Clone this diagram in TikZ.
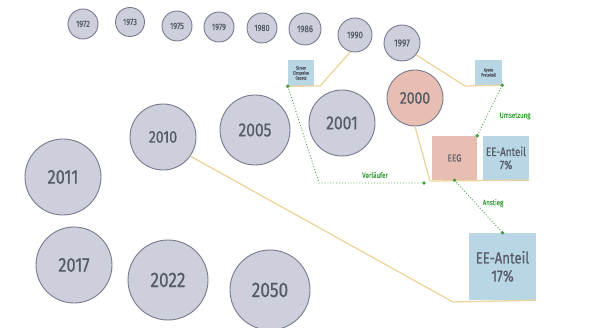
\documentclass[tikz,border=0pt]{standalone}
\usepackage{fontspec}
\setmainfont{Fira Sans}[FakeStretch=0.82,FakeBold=0.6]
\definecolor{cfill}{HTML}{CDD0DC}
\definecolor{cdraw}{HTML}{767A8C}
\definecolor{ctext}{HTML}{575B66}
\definecolor{salmon}{HTML}{E8BDB2}
\definecolor{lblue}{HTML}{B9D6E4}
\definecolor{tanline}{HTML}{EDD49C}
\definecolor{dgreen}{HTML}{3E9E3E}
\tikzset{
  yr/.style={circle, draw=cdraw, line width=0.9pt, fill=cfill, text=ctext, inner sep=0pt, minimum size=#1},
  boxb/.style={fill=lblue, text=ctext, align=center, inner sep=0pt},
  boxs/.style={fill=salmon, text=ctext, align=center, inner sep=0pt},
  tl/.style={draw=tanline, line width=1.3pt},
  gl/.style={draw=dgreen, dotted, line width=0.9pt},
  gdot/.style={fill=dgreen},
  glab/.style={text=dgreen, font=\fontsize{7.5}{8}\selectfont}
}
\begin{document}
\begin{tikzpicture}[x=1pt,y=-1pt]
\useasboundingbox (0,0) rectangle (593,328);
\coordinate (t1) at (320,86);
\coordinate (t2) at (465,86);
\coordinate (t3) at (430,181);
\coordinate (t4) at (453,302);
% small circles
\node[yr=30pt, font=\fontsize{9}{10}\selectfont] (c1972) at (83,24) {1972};
\node[yr=29pt, font=\fontsize{9}{10}\selectfont] (c1973) at (130,22) {1973};
\node[yr=30pt, font=\fontsize{9}{10}\selectfont] (c1975) at (177,26) {1975};
\node[yr=30pt, font=\fontsize{9}{10}\selectfont] (c1979) at (219,27) {1979};
\node[yr=30pt, font=\fontsize{9}{10}\selectfont] (c1980) at (262,28) {1980};
\node[yr=32pt, font=\fontsize{9.5}{10}\selectfont] (c1986) at (305,29) {1986};
\node[yr=34pt, font=\fontsize{9.5}{10}\selectfont] (c1990) at (355,35) {1990};
\node[yr=36pt, font=\fontsize{10}{11}\selectfont] (c1997) at (402,43) {1997};
% boxes
\node[boxb, minimum width=26pt, minimum height=26pt, font=\fontsize{4.5}{5}\selectfont] (strom) at (301,73) {Strom\\Einspeise\\Gesetz};
\node[boxb, minimum width=27pt, minimum height=25pt, font=\fontsize{4.5}{5}\selectfont] (kyoto) at (488.5,72.5) {Kyoto\\Protokoll};
\node[boxs, minimum width=45pt, minimum height=44pt, font=\fontsize{10}{11}\selectfont] (eeg) at (454.5,158) {EEG};
\node[boxb, minimum width=46pt, minimum height=44pt, font=\fontsize{12}{13}\selectfont] (ee7) at (506,158) {EE-Anteil\\7\%};
\node[boxb, minimum width=67pt, minimum height=67pt, font=\fontsize{16}{18}\selectfont] (ee17) at (502.5,266.5) {EE-Anteil\\17\%};
% big circles
\node[yr=56pt, fill=salmon, font=\fontsize{17}{18}\selectfont] (c2000) at (415,98) {2000};
\node[yr=66pt, font=\fontsize{19}{20}\selectfont] (c2001) at (342,123) {2001};
\node[yr=70pt, font=\fontsize{19}{20}\selectfont] (c2005) at (255,130) {2005};
\node[yr=66pt, font=\fontsize{17}{18}\selectfont] (c2010) at (163,137) {2010};
\node[yr=76pt, font=\fontsize{20}{21}\selectfont] (c2011) at (63,177) {2011};
\node[yr=76pt, font=\fontsize{20}{21}\selectfont] (c2017) at (74,265) {2017};
\node[yr=80pt, font=\fontsize{21}{22}\selectfont] (c2022) at (168,280) {2022};
\node[yr=80pt, font=\fontsize{21}{22}\selectfont] (c2050) at (270,290) {2050};
% tan lines
\draw[tl] (c1990.255) -- (t1) -- (strom.south west);
\draw[tl] (c1997.-40) -- (t2) -- (kyoto.south east);
\draw[tl] (c2000.-90) -- (t3) -- (ee7.south east);
\draw[tl] (c2010.-35) -- (t4) -- (ee17.south east);
% green dotted connectors
\coordinate (g1) at (319,183);
\coordinate (g2) at (424,183);
\draw[gl] (strom.south west) -- (g1) -- (g2);
\draw[gl] (kyoto.south east) -- (eeg.north east);
\draw[gl] (eeg.south) -- (ee17.north);
\fill[gdot] (strom.south west) circle (1.9pt);
\fill[gdot] (g2) circle (1.9pt);
\fill[gdot] (kyoto.south east) circle (1.9pt);
\fill[gdot] (eeg.north east) circle (1.9pt);
\fill[gdot] (eeg.south) circle (1.9pt);
\fill[gdot] (ee17.north) circle (1.9pt);
\node[glab] (lv) at (375,175) {Vorläufer};
\node[glab] (lu) at (515,116) {Umsetzung};
\node[glab] (la) at (493,203) {Anstieg};
\end{tikzpicture}
\end{document}
